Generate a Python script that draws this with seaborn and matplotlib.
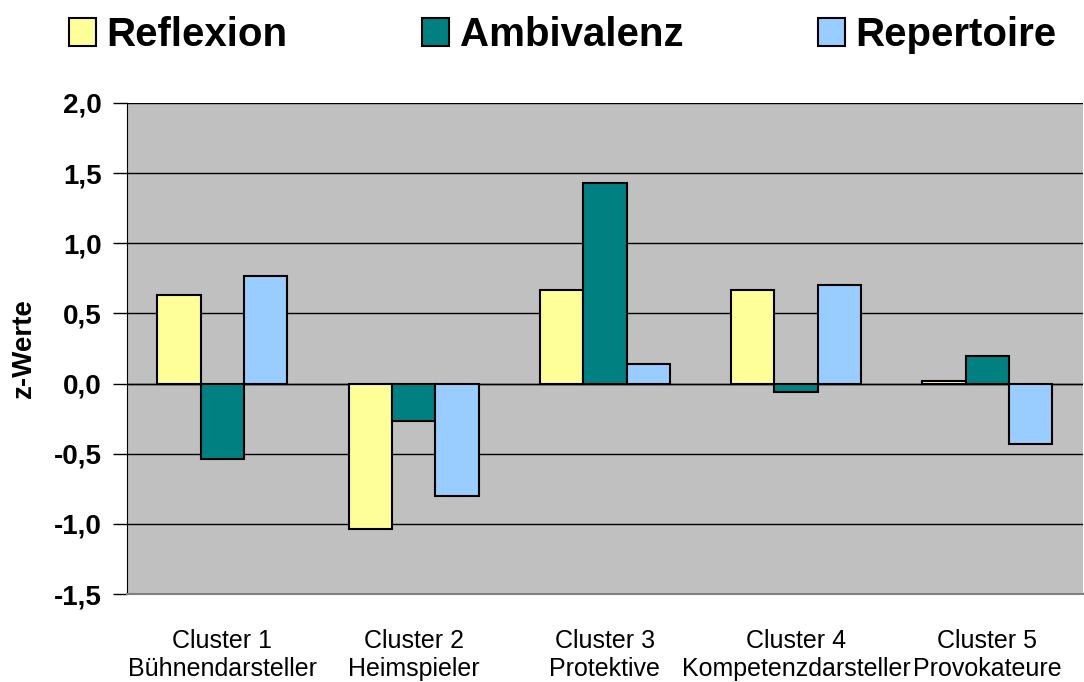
import numpy as np
import pandas as pd
import seaborn as sns
import matplotlib.pyplot as plt
from matplotlib.ticker import FixedLocator

clusters = ["Cluster 1\nBühnendarsteller", "Cluster 2\nHeimspieler", "Cluster 3\nProtektive",
            "Cluster 4\nKompetenzdarsteller", "Cluster 5\nProvokateure"]
reflexion = [0.63, -1.04, 0.67, 0.67, 0.02]
ambivalenz = [-0.54, -0.27, 1.43, -0.06, 0.20]
repertoire = [0.77, -0.80, 0.14, 0.70, -0.43]
series = ["Reflexion", "Ambivalenz", "Repertoire"]
colors = {"Reflexion": "#FFFF99", "Ambivalenz": "#008080", "Repertoire": "#99CCFF"}
yticks = [-1.5, -1.0, -0.5, 0.0, 0.5, 1.0, 1.5, 2.0]

df = pd.DataFrame({"Cluster": clusters, "Reflexion": reflexion,
                   "Ambivalenz": ambivalenz, "Repertoire": repertoire})
df = df.melt(id_vars="Cluster", var_name="Serie", value_name="z")

sns.set_style("white")
plt.rcParams["font.family"] = ["Liberation Sans", "DejaVu Sans"]
plt.rcParams["text.color"] = "black"
plt.rcParams["xtick.color"] = "black"
plt.rcParams["ytick.color"] = "black"
plt.rcParams["axes.labelcolor"] = "black"

fig = plt.figure(figsize=(10.84, 6.82), dpi=100)
ax = fig.add_axes([0.117, 0.129, 0.882, 0.72])
ax.set_facecolor("#C0C0C0")

sns.barplot(data=df, x="Cluster", y="z", hue="Serie", order=clusters, hue_order=series,
            palette=colors, saturation=1, width=0.68, edgecolor="black", linewidth=1.5,
            ax=ax, legend=True, zorder=3)

ax.set_ylim(-1.5, 2.0)
ax.set_xlim(-0.5, 4.5)
ax.yaxis.set_major_locator(FixedLocator(yticks))
ax.set_yticklabels([f"{v:.1f}".replace(".", ",") for v in yticks], fontsize=20, fontweight="bold")
ax.grid(axis="y", color="black", linewidth=1.0, zorder=1)
ax.set_axisbelow(True)
ax.axhline(0, color="black", linewidth=1.0, zorder=2)
ax.tick_params(axis="y", left=True, length=10, width=1, direction="out", pad=8)
ax.tick_params(axis="x", bottom=False, labelsize=18, pad=22)
ax.set_xlabel("")
ax.set_ylabel("z-Werte", fontsize=20, fontweight="bold", labelpad=12)
for s in ["top", "right"]:
    ax.spines[s].set_visible(False)
ax.spines["left"].set_color("black")
ax.spines["bottom"].set_color("#808080")
ax.spines["bottom"].set_linewidth(1.5)

handles, labels = ax.get_legend_handles_labels()
ax.get_legend().remove()
fig.legend(handles, labels, loc="upper center", bbox_to_anchor=(0.519, 1.0), ncol=3,
           frameon=False, prop={"size": 29, "weight": "bold"}, handlelength=0.68,
           handleheight=0.68, handletextpad=0.25, columnspacing=3.35,
           borderaxespad=0.0)

fig.savefig("out.png", dpi=100)
